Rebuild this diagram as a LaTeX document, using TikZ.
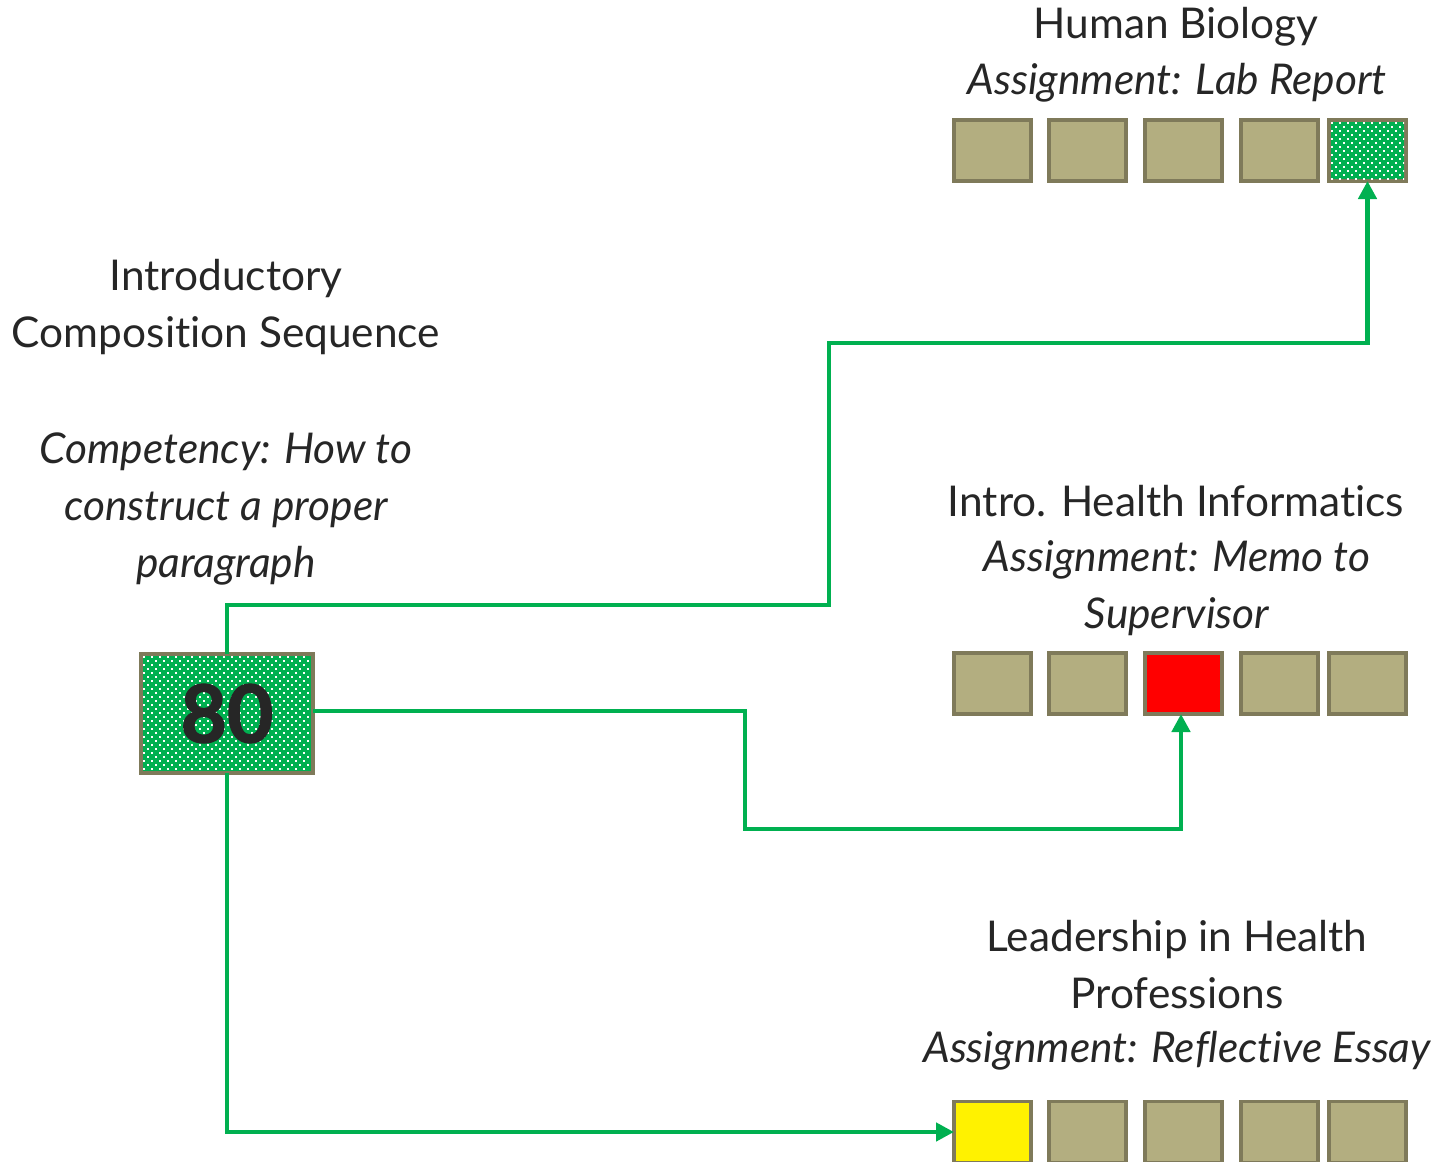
\documentclass[tikz,border=0pt]{standalone}
\usepackage{fontspec}
\setmainfont{Lato}[Ligatures={NoCommon}]
\newfontfamily\heavyfont{Lato}[BoldFeatures={FakeBold=1.6}]
\usetikzlibrary{arrows.meta}
\definecolor{olivefill}{HTML}{B3AE80}
\definecolor{olivedraw}{HTML}{7F7A5A}
\definecolor{lgreen}{HTML}{00B050}
\definecolor{txt}{HTML}{262626}
\begin{document}
\begin{tikzpicture}[x=0.5pt,y=-0.5pt,
  cell/.style={draw=olivedraw,line width=1.8pt,fill=olivefill,minimum width=38.5pt,minimum height=30.5pt,inner sep=0pt,outer sep=0pt},
  lbl/.style={text=txt,font=\fontsize{21.2}{28.5}\selectfont,align=center,inner sep=0pt},
  link/.style={draw=lgreen,line width=2.4pt},
  arr/.style={link,-{Triangle[length=9pt,width=9pt]}}]
\useasboundingbox (0,0) rectangle (1442,1162);
% top row
\node[cell] (t1) at (992.5,150.5) {};
\node[cell] (t2) at (1087.5,150.5) {};
\node[cell] (t3) at (1183.5,150.5) {};
\node[cell] (t4) at (1279.5,150.5) {};
\node[cell,fill=lgreen] (t5) at (1367.5,150.5) {};
\begin{scope}
\clip ([shift={(1.8,-1.8)}]t5.south west) rectangle ([shift={(-1.8,1.8)}]t5.north east);
\foreach \j in {0,...,15} {
  \pgfmathsetmacro\off{mod(\j,2)*4}
  \foreach \i in {0,...,10}
    \fill[white] ([shift={(2+\off+\i*8,2+\j*4)}]t5.north west) rectangle ++(2,2);
}
\end{scope}
% middle row
\node[cell] (m1) at (992.5,683.5) {};
\node[cell] (m2) at (1087.5,683.5) {};
\node[cell,fill=red] (m3) at (1183.5,683.5) {};
\node[cell] (m4) at (1279.5,683.5) {};
\node[cell] (m5) at (1367.5,683.5) {};
% bottom row
\node[cell,fill=yellow] (b1) at (992.5,1132) {};
\node[cell] (b2) at (1087.5,1132) {};
\node[cell] (b3) at (1183.5,1132) {};
\node[cell] (b4) at (1279.5,1132) {};
\node[cell] (b5) at (1367.5,1132) {};
% source
\node[fill=lgreen,minimum width=86pt,minimum height=59.5pt,inner sep=0pt,outer sep=0pt] (srcbg) at (227,713.5) {};
\begin{scope}
\clip (srcbg.south west) rectangle (srcbg.north east);
\foreach \j in {0,...,30} {
  \pgfmathsetmacro\off{mod(\j,2)*4}
  \foreach \i in {0,...,22}
    \fill[white] ([shift={(2+\off+\i*8,2+\j*4)}]srcbg.north west) rectangle ++(2,2);
}
\end{scope}
\node[draw=olivedraw,line width=1.8pt,minimum width=86pt,minimum height=59.5pt,inner sep=0pt,outer sep=0pt,text=txt,font=\heavyfont\fontsize{40}{40}\selectfont\bfseries] (src) at (srcbg) {80};
% labels
\node[lbl] (hb) at (1176,27) {Human Biology};
\node[lbl] (hba) at (1177,83) {\itshape Assignment: Lab Report};
\node[lbl] (ic) at (226,307) {Introductory\\Composition Sequence};
\node[lbl] (comp) at (226,509) {\itshape Competency: How to\\\itshape construct a proper\\\itshape paragraph};
\node[lbl] (hi) at (1176,501) {Intro. Health Informatics};
\node[lbl] (hia) at (1177,588) {\itshape Assignment: Memo to\\\itshape Supervisor};
\node[lbl] (lh) at (1177,965) {Leadership in Health\\Professions};
\node[lbl] (lha) at (1177,1051) {\itshape Assignment: Reflective Essay};
% connectors
\coordinate (c1) at (829,605);
\coordinate (c2) at (829,343);
\coordinate (c3) at (745,711);
\coordinate (c4) at (745,829);
\coordinate (c5) at (1181,829);
\draw[arr] (src.north) |- (c1) -- (c2) -| (t5.south);
\draw[arr] (src.east |- c3) -- (c3) -- (c4) -- (c5) -- (c5 |- m3.south);
\draw[arr] (src.south) |- (b1.west);
\end{tikzpicture}
\end{document}
